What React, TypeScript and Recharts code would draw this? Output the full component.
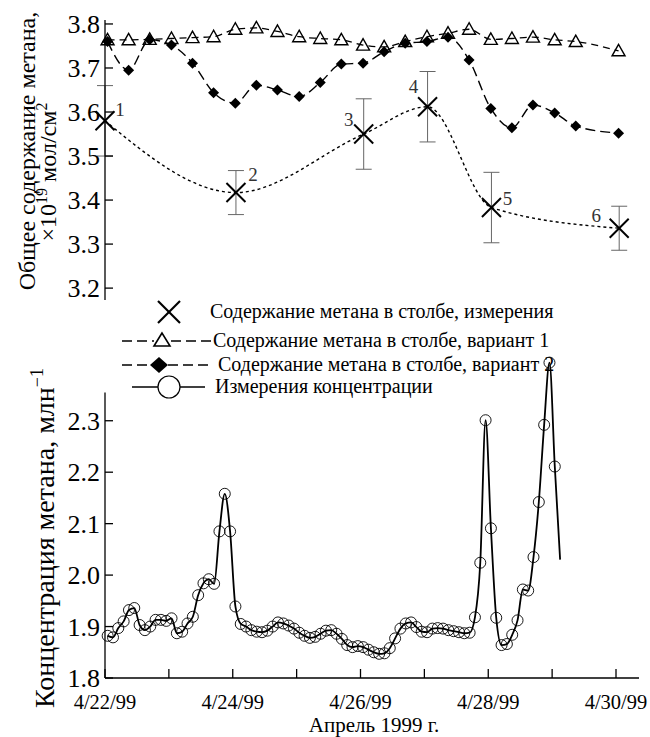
import React from 'react'
import { ComposedChart, Line, XAxis, YAxis, ErrorBar, LabelList, ReferenceLine } from 'recharts'

const serif = "'Liberation Serif', 'Times New Roman', Tinos, 'DejaVu Serif', serif"
const tx = { fontFamily: serif }

// x is measured in days since 4/22/99 00:00
const dayTicks = [0, 1, 2, 3, 4, 5, 6, 7, 8]
const dayLabels = ['4/22/99', '', '4/24/99', '', '4/26/99', '', '4/28/99', '', '4/30/99']

// top panel: total column content, x10^19 mol/cm^2
const modelDays = [0.04, 0.37, 0.7, 1.04, 1.37, 1.7, 2.04, 2.37, 2.7, 3.04, 3.37, 3.7, 4.04, 4.37, 4.7, 5.04, 5.37, 5.7, 6.04, 6.37, 6.7, 7.04, 7.37, 8.04]
const variant1 = [3.764, 3.764, 3.765, 3.767, 3.769, 3.771, 3.788, 3.791, 3.783, 3.771, 3.767, 3.764, 3.752, 3.748, 3.76, 3.771, 3.779, 3.788, 3.765, 3.767, 3.77, 3.764, 3.76, 3.739]
const variant2 = [3.76, 3.695, 3.764, 3.752, 3.711, 3.644, 3.62, 3.661, 3.65, 3.635, 3.667, 3.709, 3.711, 3.737, 3.756, 3.76, 3.77, 3.718, 3.608, 3.564, 3.616, 3.598, 3.568, 3.552]

const measDays = [0, 2.05, 4.05, 5.05, 6.05, 8.05]
const measValues = [3.58, 3.417, 3.55, 3.612, 3.383, 3.336]
const measErrors = [0.08, 0.05, 0.08, 0.08, 0.08, 0.05]
const measLabels = ['1', '2', '3', '4', '5', '6']

const topTicks = [3.2, 3.3, 3.4, 3.5, 3.6, 3.7, 3.8]

// bottom panel: surface concentration, ppm, sampled every 2 hours from 01:00 4/22
const concValues = [
  1.882, 1.879, 1.897, 1.91, 1.932, 1.936, 1.903, 1.893, 1.9, 1.913,
  1.913, 1.911, 1.916, 1.887, 1.89, 1.906, 1.919, 1.961, 1.984, 1.992,
  1.983, 2.085, 2.158, 2.085, 1.939, 1.905, 1.9, 1.893, 1.89, 1.889,
  1.892, 1.9, 1.908, 1.906, 1.902, 1.896, 1.888, 1.882, 1.878, 1.88,
  1.886, 1.892, 1.893, 1.886, 1.876, 1.864, 1.86, 1.862, 1.86, 1.855,
  1.85, 1.847, 1.848, 1.858, 1.877, 1.896, 1.906, 1.908, 1.899, 1.89,
  1.889, 1.896, 1.897, 1.896, 1.893, 1.891, 1.889, 1.887, 1.888, 1.918,
  2.024, 2.301, 2.091, 1.917, 1.864, 1.866, 1.884, 1.912, 1.972, 1.97,
  2.035, 2.142, 2.292, 2.413, 2.211, 2.03,
]
const concTicks = [1.8, 1.9, 2.0, 2.1, 2.2, 2.3]

const modelRows = modelDays.map((t, i) => ({ t, v1: variant1[i], v2: variant2[i] }))
const measRows = measDays.map((t, i) => ({ t, v: measValues[i], err: measErrors[i], label: measLabels[i] }))
const concRows = concValues.map((v, i) => ({ t: (1 + 2 * i) / 24, v }))

const BOTTOM_TOP = 340

const LeftTick = (props: any) => {
  const { x, y, payload } = props
  return (
    <g>
      <line x1={x} y1={y} x2={x + 8} y2={y} stroke="#000" strokeWidth={1.3} />
      <text x={x - 5} y={y} dy="0.35em" textAnchor="end" fontSize={26} style={tx} fill="#000">
        {Number(payload.value).toFixed(1)}
      </text>
    </g>
  )
}

const DayTick = (props: any) => {
  const { x, y, payload } = props
  const text = dayLabels[Math.round(payload.value)]
  return (
    <g>
      <line x1={x} y1={y} x2={x} y2={y - 9} stroke="#000" strokeWidth={1.3} />
      {text && (
        <text x={x} y={y + 31} textAnchor="middle" fontSize={20.5} style={tx} fill="#000">{text}</text>
      )}
    </g>
  )
}

const Triangle = (props: any) => {
  const { cx, cy, key } = props
  if (cx == null || cy == null) return <g key={key} />
  return <polygon key={key} points={`${cx},${cy - 6.5} ${cx - 6.5},${cy + 5} ${cx + 6.5},${cy + 5}`} fill="none" stroke="#000" strokeWidth={1.4} />
}

const Diamond = (props: any) => {
  const { cx, cy, key } = props
  if (cx == null || cy == null) return <g key={key} />
  return <polygon key={key} points={`${cx},${cy - 5.5} ${cx + 5.5},${cy} ${cx},${cy + 5.5} ${cx - 5.5},${cy}`} fill="#000" />
}

const Cross = (props: any) => {
  const { cx, cy, key } = props
  if (cx == null || cy == null) return <g key={key} />
  const s = 9.5
  return (
    <g key={key} stroke="#000" strokeWidth={2}>
      <line x1={cx - s} y1={cy - s} x2={cx + s} y2={cy + s} />
      <line x1={cx - s} y1={cy + s} x2={cx + s} y2={cy - s} />
    </g>
  )
}

const Ring = (props: any) => {
  const { cx, cy, key, index } = props
  // the last sample of the record is drawn without a marker
  if (cx == null || cy == null || index === concValues.length - 1) return <g key={key} />
  return <circle key={key} cx={cx} cy={cy} r={5.5} fill="none" stroke="#000" strokeWidth={0.9} />
}

const labelShift = [[15, -11], [17, -18], [-15, -15], [-14, -20], [16, -9], [-23, -13]]

const PointNumber = (props: any) => {
  const { x, y, value, index } = props
  const [dx, dy] = labelShift[index] || [12, -12]
  return (
    <text x={x + dx} y={y + dy} dy="0.35em" textAnchor="middle" fontSize={19} style={tx} fill="#333">{value}</text>
  )
}

const TopTitle = () => (
  <g fill="#000">
    <text transform="translate(35,151) rotate(-90)" textAnchor="middle" fontSize={24} style={tx}>Общее содержание метана,</text>
    <text transform="translate(56,172) rotate(-90)" textAnchor="middle" fontSize={24} style={tx}>
      ×10<tspan dy={-9} fontSize={16}>19</tspan><tspan dy={9}> мол/см</tspan><tspan dy={-9} fontSize={16}>2</tspan>
    </text>
  </g>
)

const BottomTitle = () => (
  <text transform={`translate(54,${538 - BOTTOM_TOP}) rotate(-90)`} textAnchor="middle" fontSize={28} style={tx} fill="#000">
    Концентрация метана, млн<tspan dy={-11} fontSize={18}>−1</tspan>
  </text>
)

const XTitle = () => (
  <text x={374} y={732.4 - BOTTOM_TOP} textAnchor="middle" fontSize={21} style={tx} fill="#000">Апрель 1999 г.</text>
)

const LegendBox = () => (
  <svg width={650} height={400} style={{ position: 'absolute', left: 0, top: 0, pointerEvents: 'none' }}>
    <g fontSize={20} fill="#000" style={tx}>
      <g stroke="#000" strokeWidth={2.2}>
        <line x1={158} y1={301} x2={180} y2={323} />
        <line x1={158} y1={323} x2={180} y2={301} />
      </g>
      <text x={210} y={312} dy="0.32em" style={tx}>Содержание метана в столбе, измерения</text>

      <line x1={122} y1={341} x2={154} y2={341} stroke="#000" strokeWidth={1.5} strokeDasharray="10 5" />
      <line x1={171} y1={341} x2={211} y2={341} stroke="#000" strokeWidth={1.5} strokeDasharray="10 5" />
      <polygon points="162,333 154,346 170,346" fill="#fff" stroke="#000" strokeWidth={1.6} />
      <text x={213} y={341} dy="0.32em" style={tx}>Содержание метана в столбе, вариант 1</text>

      <line x1={122} y1={365} x2={151} y2={365} stroke="#000" strokeWidth={1.5} strokeDasharray="10 5" />
      <line x1={168} y1={365} x2={212} y2={365} stroke="#000" strokeWidth={1.5} strokeDasharray="10 5" />
      <polygon points="159,357 168,365 159,373 150,365" fill="#000" />
      <text x={218} y={365} dy="0.32em" style={tx}>Содержание метана в столбе, вариант 2</text>

      <line x1={132} y1={387} x2={205} y2={387} stroke="#000" strokeWidth={1.6} />
      <circle cx={169} cy={387} r={11} fill="#fff" stroke="#000" strokeWidth={1.2} />
      <text x={215} y={387} dy="0.32em" style={tx}>Измерения концентрации</text>
    </g>
  </svg>
)

const App = () => {
  return (
    <div style={{ position: 'absolute', left: 0, top: 0, width: 650, height: 737, background: '#fff', fontFamily: serif }}>
      <div style={{ position: 'absolute', left: 0, top: 0 }}>
        <ComposedChart width={650} height={320} margin={{ top: 20, right: 11, bottom: 20, left: 0 }}>
          <XAxis type="number" dataKey="t" domain={[0, 8.36]} hide allowDuplicatedCategory={false} />
          <YAxis
            type="number"
            domain={[3.173, 3.809]}
            ticks={topTicks}
            width={105}
            tickSize={0}
            tickMargin={0}
            tickLine={false}
            tick={<LeftTick />}
            axisLine={{ stroke: '#000', strokeWidth: 1.3 }}
            interval={0}
            label={<TopTitle />}
          />
          <Line data={modelRows} dataKey="v1" type="monotone" stroke="#000" strokeWidth={1.3} strokeDasharray="7 5" dot={Triangle} isAnimationActive={false} connectNulls />
          <Line data={modelRows} dataKey="v2" type="monotone" stroke="#000" strokeWidth={1.4} strokeDasharray="10 5" dot={Diamond} isAnimationActive={false} connectNulls />
          <Line data={measRows} dataKey="v" type="monotone" stroke="#000" strokeWidth={1.4} strokeDasharray="3 3" dot={Cross} isAnimationActive={false}>
            <ErrorBar dataKey="err" direction="y" width={8} stroke="#666" strokeWidth={1} />
            <LabelList dataKey="label" content={PointNumber} />
          </Line>
        </ComposedChart>
      </div>

      <div style={{ position: 'absolute', left: 0, top: BOTTOM_TOP }}>
        <ComposedChart width={650} height={397} margin={{ top: 19, right: 11, bottom: 0, left: 0 }}>
          <XAxis
            type="number"
            dataKey="t"
            domain={[0, 8.36]}
            ticks={dayTicks}
            interval={0}
            height={59}
            tickSize={0}
            tickMargin={0}
            tickLine={false}
            tick={<DayTick />}
            axisLine={{ stroke: '#000', strokeWidth: 1.3 }}
            label={<XTitle />}
          />
          <YAxis
            type="number"
            domain={[1.8, 2.42]}
            ticks={concTicks}
            interval={0}
            width={105}
            tickSize={0}
            tickMargin={0}
            tickLine={false}
            tick={<LeftTick />}
            axisLine={false}
            label={<BottomTitle />}
          />
          <ReferenceLine segment={[{ x: 0, y: 1.8 }, { x: 0, y: 2.355 }]} stroke="#000" strokeWidth={1.3} ifOverflow="visible" />
          <Line data={concRows} dataKey="v" type="monotone" stroke="#000" strokeWidth={1.8} dot={Ring} isAnimationActive={false} />
        </ComposedChart>
      </div>

      <LegendBox />
    </div>
  )
}

export default App
